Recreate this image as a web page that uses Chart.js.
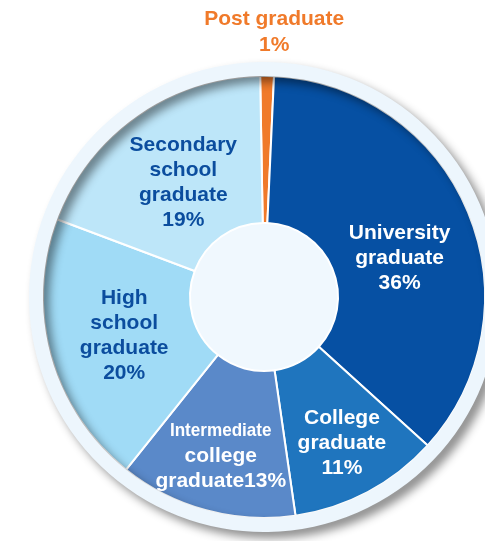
<!DOCTYPE html>
<html>
<head>
<meta charset="utf-8">
<script src="https://cdn.jsdelivr.net/npm/chart.js@4/dist/chart.umd.min.js"></script>
<style>
  html, body { margin:0; padding:0; background:#fff; overflow:hidden; width:485px; height:541px; }
  canvas { display:block; }
</style>
</head>
<body>
<canvas id="pie" width="528" height="541"></canvas>
<script>
// data, clockwise from 12 o'clock
const categories = ['Post graduate','University graduate','College graduate','Intermediate college graduate','High school graduate','Secondary school graduate'];
const shares = [1, 36, 11, 13, 20, 19];
const sliceColors = ['#f07a2a','#0650a3','#1f75be','#5a89c9','#a0dbf6','#bde6f9'];
// how each label is broken into lines, {v} = share
const labelLines = [
  ['Post graduate','{v}%'],
  ['University','graduate','{v}%'],
  ['College','graduate','{v}%'],
  ['Intermediate','college','graduate{v}%'],
  ['High','school','graduate','{v}%'],
  ['Secondary','school','graduate','{v}%']
];
const labelColors = ['#f07a2a','#fff','#fff','#fff','#0b4d9e','#0b4d9e'];
const labelDist = [265, 141, 166, 165, 145, 140];
const labelNudge = [1.4, 6.7, 0, 0, 0, 0]; // degrees

const FONT = 'Liberation Sans, Arial, sans-serif';

const ringShadow = {
  id:'ringShadow',
  beforeDatasetDraw(chart, args){
    if (args.index !== 0) return;
    const c = chart.ctx;
    c.save();
    c.shadowColor = 'rgba(0,0,0,0.45)';
    c.shadowBlur = 10;
    c.shadowOffsetX = 6;
    c.shadowOffsetY = 6;
  },
  afterDatasetDraw(chart, args){
    if (args.index === 0) chart.ctx.restore();
  }
};

const sliceLabels = {
  id:'sliceLabels',
  afterDatasetsDraw(chart){
    const c = chart.ctx;
    const arcs = chart.getDatasetMeta(1).data;
    arcs.forEach((a, i) => {
      const mid = (a.startAngle + a.endAngle) / 2 + labelNudge[i] * Math.PI / 180;
      const x = a.x + Math.cos(mid) * labelDist[i];
      const y = a.y + Math.sin(mid) * labelDist[i];
      const lines = labelLines[i].map(s => s.replace('{v}', shares[i]));
      const lh = i === 0 ? 26 : 25;
      const top = y - (lines.length - 1) * lh / 2;
      c.save();
      c.fillStyle = labelColors[i];
      c.textAlign = 'center';
      c.textBaseline = 'middle';
      lines.forEach((s, k) => {
        const ly = top + k * lh;
        if (i === 3 && k === 0){
          // the small condensed first line
          c.save();
          c.translate(x, ly);
          c.scale(0.9, 1);
          c.font = 'bold 19px ' + FONT;
          c.fillText(s, 0, 0);
          c.restore();
        } else {
          c.font = 'bold 21px ' + FONT;
          c.fillText(s, x, ly);
        }
      });
      c.restore();
    });
  }
};

new Chart(document.getElementById('pie'), {
  type:'pie',
  data:{
    labels: categories,
    datasets:[
      { data:[1], backgroundColor:'#edf6fd', borderWidth:0, weight:14 },
      { data: shares, backgroundColor: sliceColors, borderColor:'#fff', borderWidth:2, weight:147 },
      { data:[1], backgroundColor:'#f0f8fe', borderWidth:0, weight:74 }
    ]
  },
  options:{
    responsive:false,
    animation:false,
    rotation:-1,
    radius:235,
    cutout:0,
    layout:{ padding:{ top:53, bottom:0, left:0, right:0 } },
    plugins:{ legend:{display:false}, tooltip:{enabled:false} }
  },
  plugins:[ringShadow, sliceLabels]
});
</script>
</body>
</html>
